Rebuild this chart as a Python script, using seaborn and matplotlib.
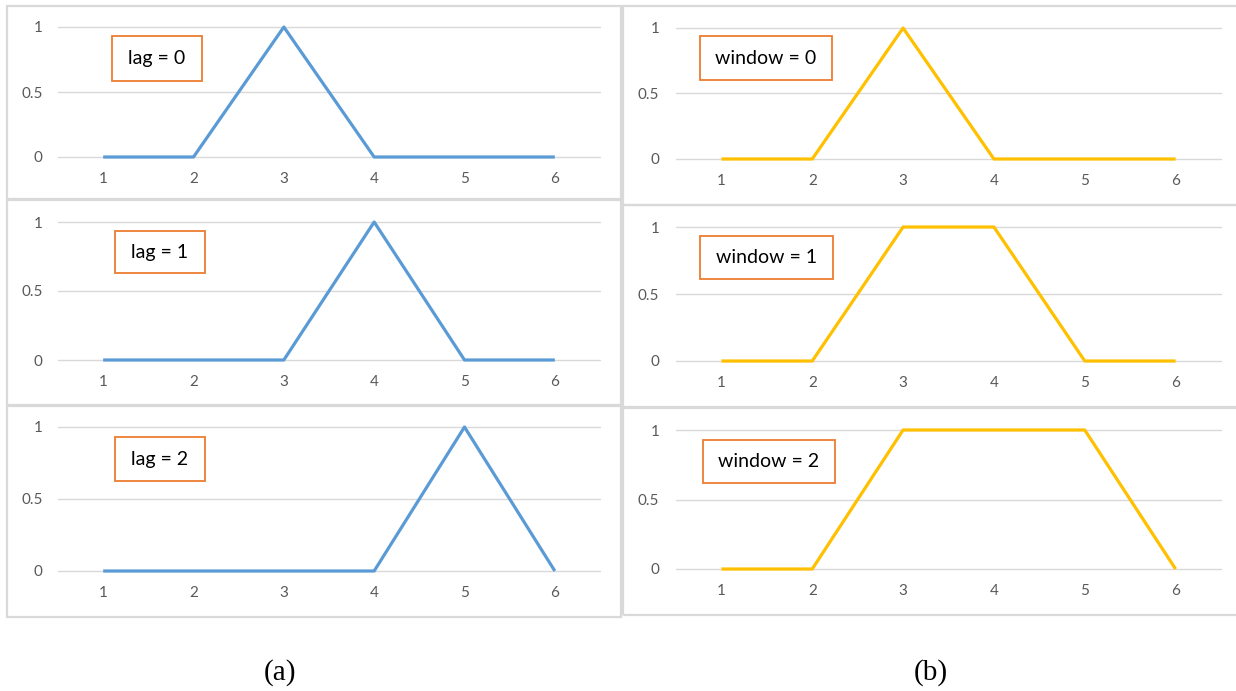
import matplotlib
matplotlib.use("Agg")
import matplotlib.pyplot as plt
from matplotlib.patches import Rectangle
import seaborn as sns

# Time steps on the horizontal axis
steps = [1, 2, 3, 4, 5, 6]
y_ticks = [0, 0.5, 1]
y_tick_labels = ["0", "0.5", "1"]

# (a) shifted impulse for increasing lag
lag_labels = ["lag = 0", "lag = 1", "lag = 2"]
lag0 = [0, 0, 1, 0, 0, 0]
lag1 = [0, 0, 0, 1, 0, 0]
lag2 = [0, 0, 0, 0, 1, 0]

# (b) widened plateau for increasing window
window_labels = ["window = 0", "window = 1", "window = 2"]
win0 = [0, 0, 1, 0, 0, 0]
win1 = [0, 0, 1, 1, 0, 0]
win2 = [0, 0, 1, 1, 1, 0]

captions = ["(a)", "(b)"]

W, H = 1236, 691
sns.set_theme(style="white")
plt.rcParams["font.family"] = ["Lato", "DejaVu Sans"]

fig = plt.figure(figsize=(W / 100, H / 100), dpi=100)
fig.patch.set_facecolor("white")

BLUE = "#5B9BD5"
GOLD = "#FFC000"
ORANGE = "#ED7D31"
GRID = "#D9D9D9"
BORDER = "#D9D9D9"
TICK = "#595959"


def fig_rect(x0, y0, x1, y1):
    """Pixel box (top-left origin) -> figure-fraction [left, bottom, width, height]."""
    return [x0 / W, 1 - y1 / H, (x1 - x0) / W, (y1 - y0) / H]


def border(x0, y0, x1, y1, color=BORDER, lw=1.6, z=0):
    l, b, w, h = fig_rect(x0, y0, x1, y1)
    fig.patches.append(Rectangle((l, b), w, h, transform=fig.transFigure,
                                 fill=False, edgecolor=color, linewidth=lw, zorder=z))


def panel(axbox, values, color, label, labelbox, ypad, xpad=10.5):
    ax = fig.add_axes(fig_rect(*axbox))
    sns.lineplot(x=steps, y=values, ax=ax, color=color, linewidth=2.3)
    for ln in ax.lines:
        ln.set_clip_on(False)
        ln.set_solid_joinstyle("round")
        ln.set_solid_capstyle("butt")
        ln.set_zorder(3)
    ax.set_xlim(0.5, 6.5)
    ax.set_ylim(0, 1)
    ax.set_xticks(steps)
    ax.set_yticks(y_ticks)
    ax.set_yticklabels(y_tick_labels)
    ax.set_xlabel("")
    ax.set_ylabel("")
    ax.grid(axis="y", color=GRID, linewidth=1.0)
    for gl in ax.get_ygridlines():
        gl.set_clip_on(False)
    ax.set_axisbelow(True)
    for s in ax.spines.values():
        s.set_visible(False)
    ax.tick_params(axis="x", length=0, pad=xpad, labelsize=11, labelcolor=TICK)
    ax.tick_params(axis="y", length=0, pad=ypad, labelsize=11, labelcolor=TICK)
    ax.set_facecolor("none")

    # labelled box inside the panel
    bx0, by0, bx1, by1 = labelbox
    border(bx0, by0, bx1, by1, color=ORANGE, lw=1.3, z=3)
    fig.text((bx0 + bx1) / 2 / W, 1 - (by0 + by1) / 2 / H, label,
             ha="center", va="center", fontsize=14, color="black",
             family=["Lato", "DejaVu Sans"])
    return ax


# panel frames
left_frames = [(7, 6, 621, 199), (7, 200, 621, 405), (7, 406, 621, 617)]
right_frames = [(623, 6, 1245, 205), (623, 205, 1245, 407), (623, 408, 1245, 615)]
for f in left_frames + right_frames:
    border(*f)

# left column: lag
left_axes = [(58, 27, 600, 157), (58, 222, 600, 360), (58, 427, 600, 571)]
lag_boxes = [(112, 36, 202, 81), (115, 231, 205, 273), (115, 437, 205, 481)]
for axbox, vals, lab, lb in zip(left_axes, [lag0, lag1, lag2], lag_labels, lag_boxes):
    panel(axbox, vals, BLUE, lab, lb, ypad=11)

# right column: window
right_axes = [(676, 28, 1221, 159), (676, 227, 1221, 361), (676, 430, 1221, 569)]
win_boxes = [(700, 36, 832, 80), (700, 236, 833, 279), (703, 440, 835, 483)]
for axbox, vals, lab, lb in zip(right_axes, [win0, win1, win2], window_labels, win_boxes):
    panel(axbox, vals, GOLD, lab, lb, ypad=12)

# sub-figure captions
for cx, cap in zip([280, 931], captions):
    fig.text(cx / W, 1 - 673 / H, cap, ha="center", va="center",
             fontsize=21, color="black", family=["Liberation Serif", "DejaVu Serif"])

fig.savefig("out.png", dpi=100, facecolor="white")
